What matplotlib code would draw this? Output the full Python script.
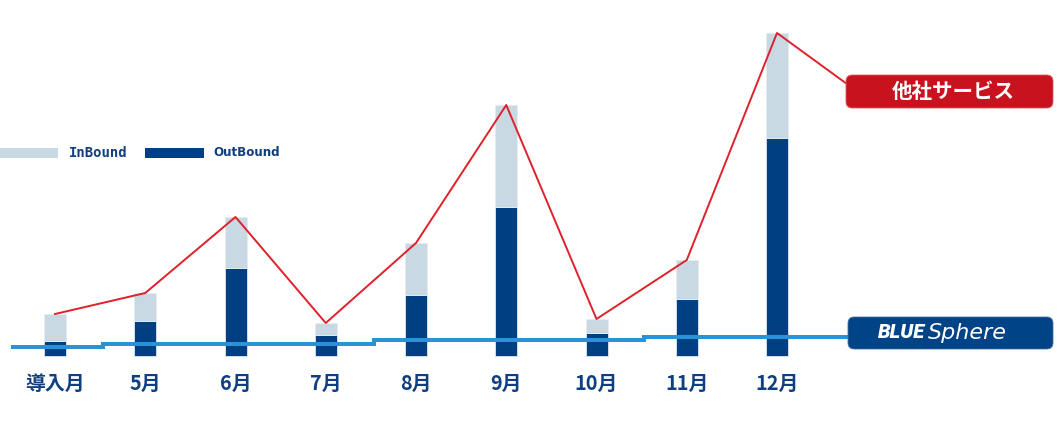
import matplotlib
matplotlib.use("Agg")
import matplotlib.pyplot as plt
from matplotlib.patches import FancyBboxPatch, Rectangle
import numpy as np

# ---- data (arbitrary units) ----
categories = ["導入月", "5月", "6月", "7月", "8月", "9月", "10月", "11月", "12月"]
outbound = [15, 35, 88, 21, 61, 149, 23, 57, 218]
inbound = [27, 28, 51, 12, 52, 102, 14, 39, 105]
other_service = [42, 63, 139, 33, 113, 251, 37, 96, 323]   # 他社サービス
blue_sphere = [9, 12.5, 12.5, 12.5, 16.5, 16.5, 16.5, 19, 19]  # BLUE Sphere
series_labels = ["InBound", "OutBound"]
other_label = "他社サービス"

# ---- style ----
C_IN = "#c9d9e3"
C_OUT = "#003f82"
C_RED = "#e0202b"
C_BLUE = "#2c92d8"
C_REDBOX = "#c8121d"
C_NAVYBOX = "#004387"
C_TEXT = "#0f3f80"

W, H = 1060, 424
fig = plt.figure(figsize=(W / 100, H / 100), dpi=100)
ax = fig.add_axes([0, 0, 1, 1])
x0px, step = 55.0, 90.25
base_px = 356.0
ax.set_xlim((0 - x0px) / step, (W - x0px) / step)
ax.set_ylim(-(H - base_px), base_px)
ax.axis("off")

x = np.arange(len(categories))
bw = 22 / step
ax.bar(x, outbound, width=bw, color=C_OUT, edgecolor="#dfe7ee", linewidth=0.6, zorder=2)
ax.bar(x, inbound, bottom=outbound, width=bw, color=C_IN, edgecolor="#e6edf2", linewidth=0.6, zorder=2)

# label anchor positions in data units
lab_x = (847 - x0px) / step
red_anchor_y = base_px - 84

# blue step line
bx = np.concatenate([[(13 - x0px) / step], x + 0.03, [lab_x]])
by = np.concatenate([[blue_sphere[0]], blue_sphere, [blue_sphere[-1]]])
ax.step(bx, by, where="mid", color=C_BLUE, lw=2.9, zorder=3, solid_joinstyle="miter")

# red line
rx = np.concatenate([x, [lab_x]])
ry = np.concatenate([other_service, [red_anchor_y]])
ax.plot(rx, ry, color=C_RED, lw=1.4, zorder=4)

# x labels
jp = ["Noto Sans CJK JP", "DejaVu Sans"]
for xi, lab in zip(x, categories):
    ax.text(xi, base_px - 383, lab, ha="center", va="center", fontsize=14.3,
            fontweight="bold", color=C_TEXT, family=jp)

# legend
def fx(px):
    return px / W
def fy(py):
    return 1 - py / H

fig.patches.append(Rectangle((fx(0), fy(158)), fx(58), 10 / H, transform=fig.transFigure,
                             facecolor=C_IN, edgecolor="none"))
fig.text(fx(69), fy(153), series_labels[0], ha="left", va="center", fontsize=10,
         fontweight="bold", color=C_TEXT, family="DejaVu Sans Mono")
fig.patches.append(Rectangle((fx(145), fy(158)), fx(59), 10 / H, transform=fig.transFigure,
                             facecolor=C_OUT, edgecolor="none"))
fig.text(fx(213), fy(153), series_labels[1], ha="left", va="center", fontsize=8.6,
         fontweight="bold", color=C_TEXT, family="DejaVu Sans")

# red label box
fig.patches.append(FancyBboxPatch((fx(846), fy(108)), fx(207), 33 / H,
                                  boxstyle="round,pad=0,rounding_size=0.006",
                                  transform=fig.transFigure, facecolor=C_REDBOX,
                                  edgecolor="#e05a60", linewidth=0.6, mutation_aspect=2.5))
fig.text(fx(953), fy(91), other_label, ha="center", va="center", fontsize=14.8,
         fontweight="bold", color="white", family=jp)

# navy label box
fig.patches.append(FancyBboxPatch((fx(848), fy(349)), fx(205), 32 / H,
                                  boxstyle="round,pad=0,rounding_size=0.006",
                                  transform=fig.transFigure, facecolor=C_NAVYBOX,
                                  edgecolor="#4a6fa0", linewidth=0.6, mutation_aspect=2.5))
fig.text(fx(925), fy(332), "BLUE", ha="right", va="center", fontsize=14.5,
         fontweight="black", style="italic", color="white", family="Roboto")
fig.text(fx(928), fy(333), "Sphere", ha="left", va="center", fontsize=16,
         fontweight="normal", style="italic", color="white", family="DejaVu Sans")

fig.savefig("out.png", dpi=100, facecolor="white")
